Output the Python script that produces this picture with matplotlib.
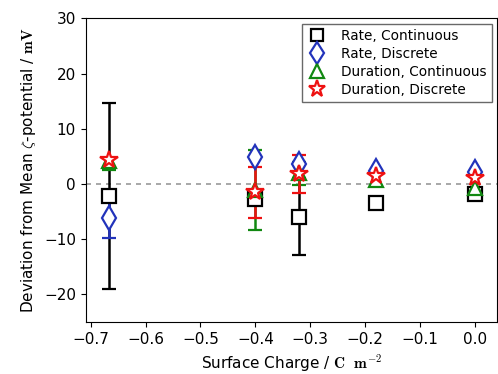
import numpy as np
import matplotlib
matplotlib.use("Agg")
import matplotlib.pyplot as plt
from matplotlib.lines import Line2D

plt.rcParams['mathtext.fontset'] = 'cm'

# surface charge positions
charge = [-0.667, -0.40, -0.32, -0.18, 0.0]

# deviation from mean zeta potential (mV) and error bars (lower, upper)
rate_cont = [-2.15, -2.8, -5.9, -3.4, -1.75]
rate_cont_err = [[16.85, np.nan, 7.0, np.nan, np.nan],
                 [16.85, np.nan, 7.0, np.nan, np.nan]]
rate_disc = [-6.1, 4.9, 3.6, 2.4, 2.1]
rate_disc_err = [[3.7, np.nan, np.nan, np.nan, np.nan],
                 [3.7, np.nan, np.nan, np.nan, np.nan]]
dur_cont = [4.2, -1.05, 1.9, 0.7, -0.8]
dur_cont_err = [[1.6, 7.25, 2.0, np.nan, np.nan],
                [0.5, 7.25, 2.0, np.nan, np.nan]]
dur_disc = [4.3, -1.5, 1.8, 1.5, 1.0]
dur_disc_err = [[np.nan, 4.6, 3.5, np.nan, np.nan],
                [np.nan, 4.6, 3.5, np.nan, np.nan]]

series = [
    (rate_cont, rate_cont_err, 's', 'black', 'Rate, Continuous'),
    (rate_disc, rate_disc_err, 'd', '#2233bb', 'Rate, Discrete'),
    (dur_cont, dur_cont_err, '^', '#118811', 'Duration, Continuous'),
    (dur_disc, dur_disc_err, '*', '#ee1111', 'Duration, Discrete'),
]
sizes = {'s': 9.5, 'd': 12, '^': 10, '*': 13}

fig = plt.figure(figsize=(4.98, 3.74), dpi=100)
ax = fig.add_axes([0.172, 0.139, 0.826, 0.812])

ax.axhline(0, color='#999999', linestyle='--', linewidth=1.2, dashes=(3, 3), zorder=0)

handles = []
for vals, errs, mk, col, lab in series:
    ax.errorbar(charge, vals, yerr=np.array(errs), fmt=mk, color=col, ecolor=col,
                markerfacecolor='white', markeredgecolor=col, markeredgewidth=1.6,
                markersize=sizes[mk], capsize=5, capthick=1.8, elinewidth=1.8)
    handles.append(Line2D([], [], linestyle='none', marker=mk, markersize=sizes[mk] * 0.95,
                          markerfacecolor='white', markeredgecolor=col,
                          markeredgewidth=1.6, label=lab))

ax.set_xlim(-0.709, 0.04)
ax.set_ylim(-25, 30)
ax.set_xticks([-0.7, -0.6, -0.5, -0.4, -0.3, -0.2, -0.1, 0.0])
ax.set_yticks([-20, -10, 0, 10, 20, 30])
ax.tick_params(labelsize=11)

ax.set_xlabel(r"Surface Charge / $\mathbf{C\ \ m^{-2}}$", fontsize=11)
ax.set_ylabel(r"Deviation from Mean $\zeta$-potential / $\mathbf{mV}$", fontsize=11)

leg = ax.legend(handles=handles, loc='upper right', fontsize=9.8, fancybox=False,
                edgecolor='#444444', handletextpad=1.0, borderpad=0.35,
                labelspacing=0.3, handlelength=1.5, borderaxespad=0.4)
leg.get_frame().set_linewidth(1.0)

fig.savefig("out.png", dpi=100)
